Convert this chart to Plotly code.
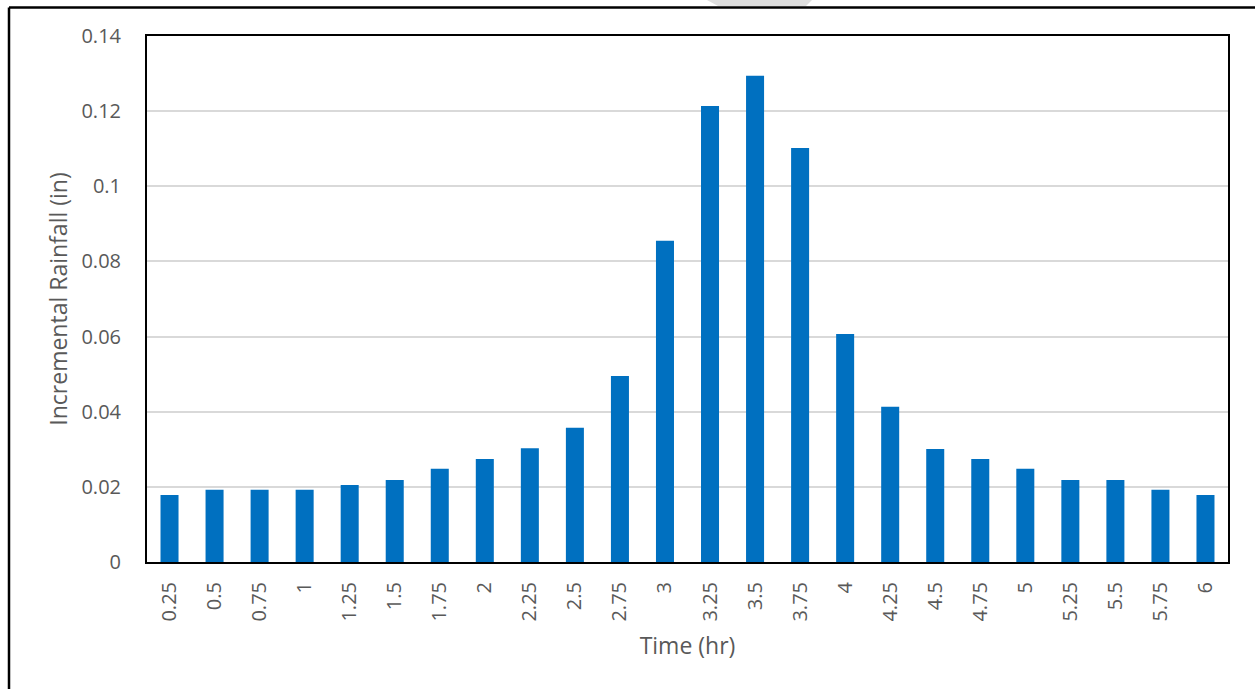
import plotly.graph_objects as go

time_labels = ["0.25", "0.5", "0.75", "1", "1.25", "1.5", "1.75", "2", "2.25", "2.5",
               "2.75", "3", "3.25", "3.5", "3.75", "4", "4.25", "4.5", "4.75", "5",
               "5.25", "5.5", "5.75", "6"]
rainfall = [0.0178, 0.0192, 0.0192, 0.0192, 0.0205, 0.0218, 0.0248, 0.0274, 0.0303, 0.0357,
            0.0495, 0.0855, 0.1214, 0.1294, 0.1102, 0.0607, 0.0413, 0.0301, 0.0274, 0.0248,
            0.0218, 0.0218, 0.0192, 0.0178]
y_ticks = [0, 0.02, 0.04, 0.06, 0.08, 0.1, 0.12, 0.14]
y_tick_text = ["0", "0.02", "0.04", "0.06", "0.08", "0.1", "0.12", "0.14"]

W, H = 1255, 689
L, R, T, B = 147, 27, 36, 127
pw, ph = W - L - R, H - T - B

def px_x(x):
    return (x - L) / pw

def px_y(y):
    return (H - B - y) / ph

fig = go.Figure(go.Bar(x=time_labels, y=rainfall, marker_color="#0070C0",
                       marker_line_width=0))

font = dict(family="Open Sans, Noto Sans, sans-serif", color="#595959")

fig.update_layout(
    width=W, height=H,
    margin=dict(l=L, r=R, t=T, b=B),
    paper_bgcolor="white", plot_bgcolor="white",
    bargap=0.6,
    showlegend=False,
    font=dict(**font, size=20),
    xaxis=dict(
        type="category", tickangle=-90,
        showline=True, linecolor="black", linewidth=2, mirror=True,
        showgrid=False, ticks="", ticklabelstandoff=10,
        tickfont=dict(**font, size=20),
        title=dict(text="Time (hr)", font=dict(**font, size=23), standoff=17),
    ),
    yaxis=dict(
        range=[0, 0.14], tickvals=y_ticks, ticktext=y_tick_text,
        showline=True, linecolor="black", linewidth=2, mirror=True,
        showgrid=True, gridcolor="#d9d9d9", gridwidth=1.5,
        zeroline=False, ticks="", ticklabelstandoff=20,
        tickfont=dict(**font, size=20),
        title=dict(text="Incremental Rainfall (in)", font=dict(**font, size=23), standoff=7),
    ),
    shapes=[
        dict(type="path", xref="paper", yref="paper",
             path=f"M {px_x(707)} {px_y(0)} L {px_x(812)} {px_y(0)} L {px_x(806)} {px_y(6)} L {px_x(718)} {px_y(6)} Z",
             fillcolor="#dedede", line=dict(width=0), layer="above"),
        dict(type="line", xref="paper", yref="paper",
             x0=px_x(9), x1=px_x(1260), y0=px_y(7.5), y1=px_y(7.5),
             line=dict(color="black", width=2.5)),
        dict(type="line", xref="paper", yref="paper",
             x0=px_x(9), x1=px_x(9), y0=px_y(7.5), y1=px_y(700),
             line=dict(color="black", width=2.5)),
    ],
)

fig.write_html("out.html", config={"displayModeBar": False},
               post_script="document.body.style.margin='0';")
